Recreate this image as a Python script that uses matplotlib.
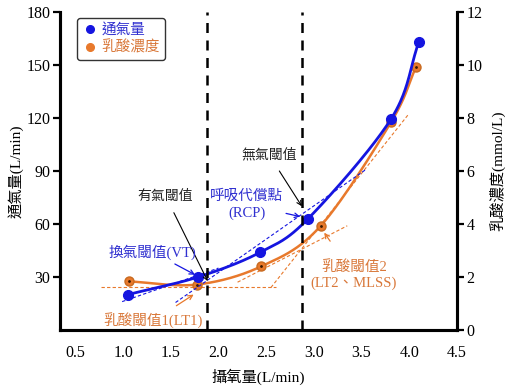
import numpy as np
import matplotlib
matplotlib.use("Agg")
import matplotlib.pyplot as plt

plt.rcParams['font.family'] = ['Liberation Serif', 'Noto Sans CJK TC']

BLUE = '#1515e0'
ORANGE = '#e8792c'
BLUE_TXT = '#3030d0'
ORANGE_TXT = '#d9783a'

# 攝氧量 (L/min) / 通氣量 (L/min)
vo2_ve = [1.05, 1.79, 2.44, 2.94, 3.81, 4.10]
ve = [20, 30, 44, 63, 119.5, 163]

# 攝氧量 (L/min) / 乳酸濃度 (mmol/L)
vo2_la = [1.06, 1.77, 2.45, 3.07, 3.81, 4.07]
lactate = [1.83, 1.71, 2.40, 3.92, 7.85, 9.92]

# 閾值位置 (攝氧量)
thresholds = [1.88, 2.88]

# 切線 (x0, x1, y0, y1)
blue_guides = [
    (0.99, 2.00, 16.0, 35.0),
    (1.55, 3.55, 15.5, 91.0),
]
orange_guides = [
    (0.77, 2.60, 1.63, 1.63),
    (2.55, 3.99, 1.60, 8.13),
    (2.20, 3.35, 1.80, 3.93),
]

x_ticks = [0.5, 1.0, 1.5, 2.0, 2.5, 3.0, 3.5, 4.0, 4.5]
ve_ticks = [30, 60, 90, 120, 150, 180]
la_ticks = [0, 2, 4, 6, 8, 10, 12]

XLIM = (0.34, 4.5)
VE_LIM = (0, 180)
LA_LIM = (0, 12)


def smooth(xs, ys, xlim, ylim, n=40):
    # Catmull-Rom 曲線 (在正規化座標下計算)
    sx = xlim[1] - xlim[0]
    sy = ylim[1] - ylim[0]
    pts = np.column_stack([(np.array(xs) - xlim[0]) / sx, (np.array(ys) - ylim[0]) / sy])
    p = np.vstack([2 * pts[0] - pts[1], pts, 2 * pts[-1] - pts[-2]])
    t = np.linspace(0, 1, n)[:, None]
    out = []
    for i in range(1, len(p) - 2):
        p0, p1, p2, p3 = p[i - 1], p[i], p[i + 1], p[i + 2]
        seg = 0.5 * (2 * p1 + (-p0 + p2) * t + (2 * p0 - 5 * p1 + 4 * p2 - p3) * t ** 2
                     + (-p0 + 3 * p1 - 3 * p2 + p3) * t ** 3)
        out.append(seg)
    c = np.vstack(out)
    return c[:, 0] * sx + xlim[0], c[:, 1] * sy + ylim[0]


fig = plt.figure(figsize=(5.14, 3.89), dpi=100)
ax = fig.add_axes([0.117, 0.152, 0.772, 0.817])
ax2 = ax.twinx()
ax.set_zorder(ax2.get_zorder() + 1)
ax.patch.set_visible(False)

# 乳酸 (右軸)
for x0, x1, y0, y1 in orange_guides:
    ax2.plot([x0, x1], [y0, y1], color=ORANGE, lw=0.8, ls=(0, (3, 2)))
cx, cy = smooth(vo2_la, lactate, XLIM, LA_LIM)
ax2.plot(cx, cy, color=ORANGE, lw=1.8)
ax2.plot(vo2_la, lactate, 'o', color=ORANGE, ms=6.5, mec='#c86a20')
ax2.plot(vo2_la, lactate, '.', color='#3a1a00', ms=2)

# 通氣量 (左軸)
for x0, x1, y0, y1 in blue_guides:
    ax.plot([x0, x1], [y0, y1], color=BLUE, lw=0.8, ls=(0, (3, 2)))
cx, cy = smooth(vo2_ve, ve, XLIM, VE_LIM)
ax.plot(cx, cy, color=BLUE, lw=2)
ax.plot(vo2_ve, ve, 'o', color=BLUE, ms=7)

for xt in thresholds:
    ax.axvline(xt, color='black', lw=1.8, ls=(0, (4, 3)))

ax.set_xlim(*XLIM)
ax.set_ylim(*VE_LIM)
ax2.set_ylim(*LA_LIM)
ax.set_xticks(x_ticks)
ax.set_xticklabels([f"{v:.1f}" for v in x_ticks])
ax.set_yticks(ve_ticks)
ax2.set_yticks(la_ticks)

for a in (ax, ax2):
    a.spines['top'].set_visible(False)
    for s in ('left', 'right', 'bottom'):
        a.spines[s].set_linewidth(2.2)
ax.tick_params(axis='x', length=0, pad=11, labelsize=11.5)
ax.tick_params(axis='y', direction='out', length=5, width=1.6, pad=2, labelsize=11.5)
ax2.tick_params(axis='y', direction='out', length=5, width=1.6, pad=2, labelsize=11.5)

ax.set_xlabel("攝氧量(L/min)", fontsize=11, labelpad=5)
ax.set_ylabel("通氣量(L/min)", fontsize=11, labelpad=2)
ax2.set_ylabel("乳酸濃度(mmol/L)", fontsize=11, rotation=90, labelpad=5)

# 標註
arrow_k = dict(arrowstyle='->', lw=0.8, color='black', mutation_scale=8)
arrow_b = dict(arrowstyle='->', lw=0.9, color=BLUE, mutation_scale=8)
arrow_o = dict(arrowstyle='->', lw=0.9, color=ORANGE, mutation_scale=8)

ax.annotate("有氣閾值", xy=(1.887, 27.6), xytext=(1.445, 75.9), ha='center', va='center',
            fontsize=10, color='#222222', arrowprops=dict(arrow_k, shrinkA=6, shrinkB=0))
ax.annotate("無氣閾值", xy=(2.874, 70), xytext=(2.527, 99.4), ha='center', va='center',
            fontsize=10, color='#222222', arrowprops=dict(arrow_k, shrinkA=6, shrinkB=0))
ax.annotate("呼吸代償點\n(RCP)", xy=(2.885, 63.8), xytext=(2.296, 71), ha='center', va='center',
            fontsize=10.5, color=BLUE_TXT, linespacing=1.3,
            arrowprops=dict(arrow_b, shrinkA=0, shrinkB=2))
ax.annotate("換氣閾值(VT)", xy=(1.78, 30.5), xytext=(1.31, 44), ha='center', va='center',
            fontsize=10.5, color=BLUE_TXT, arrowprops=dict(arrow_b, shrinkA=2, shrinkB=2))
ax.annotate("乳酸閾值1(LT1)", xy=(1.74, 20), xytext=(1.31, 5), ha='center', va='center',
            fontsize=10.5, color=ORANGE_TXT, arrowprops=dict(arrow_o, shrinkA=6, shrinkB=0))
ax.annotate("乳酸閾值2\n(LT2、MLSS)", xy=(3.1, 55.7), xytext=(3.42, 31), ha='center', va='center',
            fontsize=10.5, color=ORANGE_TXT, linespacing=1.3,
            arrowprops=dict(arrow_o, shrinkA=14, shrinkB=1))

# 圖例
h1, = ax.plot([], [], 'o', color=BLUE, ms=5.5)
h2, = ax.plot([], [], 'o', color=ORANGE, ms=5.5)
leg = ax.legend([h1, h2], ["通氣量", "乳酸濃度"], loc='upper left', bbox_to_anchor=(0.025, 1.005),
                fontsize=10.5, frameon=True, fancybox=True, handletextpad=0.3, handlelength=1.0,
                borderpad=0.35, labelspacing=0.25)
leg.get_frame().set_edgecolor('black')
leg.get_frame().set_linewidth(1.0)
leg.get_texts()[0].set_color(BLUE_TXT)
leg.get_texts()[1].set_color(ORANGE_TXT)

fig.savefig("out.png", dpi=100)
